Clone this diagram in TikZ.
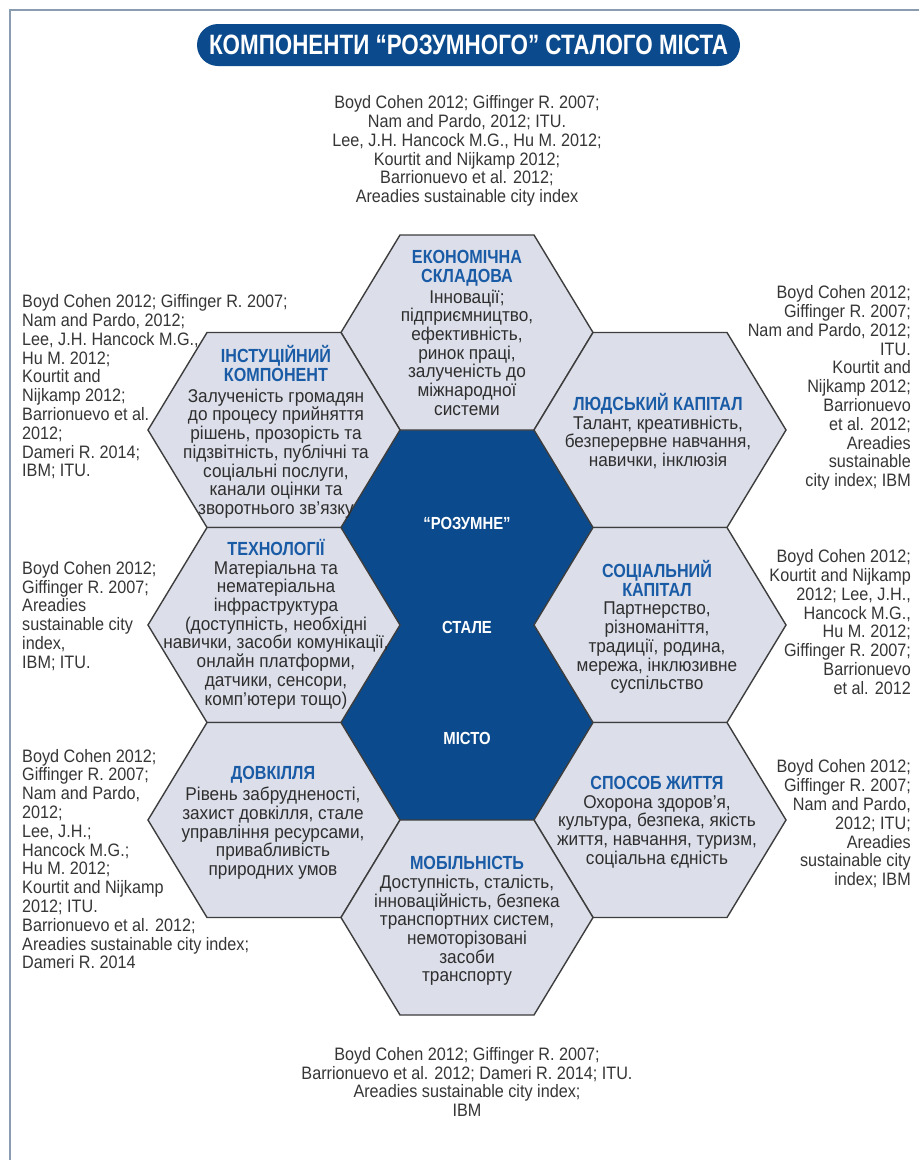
\documentclass[tikz,border=0pt]{standalone}
\usepackage{fontspec}
\setmainfont{Liberation Sans}
\newfontfamily\bodyfont[FakeStretch=0.93]{Liberation Sans}
\newfontfamily\reffont[FakeStretch=0.90]{Liberation Sans}
\newfontfamily\headfont[FakeStretch=0.85]{Liberation Sans}
\newfontfamily\titlefont[FakeStretch=0.80]{Liberation Sans}
\definecolor{framecol}{HTML}{8A9CB0}
\definecolor{darkblue}{HTML}{0B4A8C}
\definecolor{hexfill}{HTML}{DCDFEA}
\definecolor{hexline}{HTML}{3D3D3D}
\definecolor{headblue}{HTML}{1A5BA6}
\definecolor{bodycol}{HTML}{2E2E2E}
\definecolor{refcol}{HTML}{363636}
\newcommand{\hd}[1]{{\color{headblue}\headfont\bfseries\fontsize{19}{18.7}\selectfont #1}}
\tikzset{
  hexa/.pic={\path[pic actions] (-126,0) -- (-67,-97.5) -- (67,-97.5) -- (126,0) -- (67,97.5) -- (-67,97.5) -- cycle;},
  hexstyle/.style={fill=hexfill, draw=hexline, line width=1.4pt, line join=miter},
  hextext/.style={align=center, inner sep=0pt, text=bodycol, font=\bodyfont\fontsize{18.5}{18.7}\selectfont},
  reftext/.style={inner sep=0pt, text=refcol, font=\reffont\fontsize{18}{18.8}\selectfont},
  centertext/.style={inner sep=0pt, text=white, font=\headfont\bfseries\fontsize{17.5}{18}\selectfont},
  pill/.style={fill=darkblue, rounded corners=21pt, minimum width=543pt, minimum height=42pt, inner sep=0pt,
    text=white, font=\titlefont\bfseries\fontsize{28}{30}\selectfont}
}
\begin{document}
\begin{tikzpicture}[x=1pt,y=-1pt]
\useasboundingbox (0,0) rectangle (919,1160);
\fill[white] (0,0) rectangle (919,1160);
% frame
\draw[framecol, line width=1.5pt] (10,1160) -- (10,10) -- (919,10);
% title
\node[pill] (title) at (468.5,45) {КОМПОНЕНТИ “РОЗУМНОГО” СТАЛОГО МІСТА};
% dark center
\fill[darkblue] (400,430) -- (534,430) -- (593,527.5) -- (534,625) -- (593,722.5) -- (534,820)
  -- (400,820) -- (341,722.5) -- (400,625) -- (341,527.5) -- cycle;
% hexagons
\pic[hexstyle] at (467,332.5) {hexa};
\pic[hexstyle] at (274,430) {hexa};
\pic[hexstyle] at (660,430) {hexa};
\pic[hexstyle] at (274,625) {hexa};
\pic[hexstyle] at (660,625) {hexa};
\pic[hexstyle] at (274,820) {hexa};
\pic[hexstyle] at (660,820) {hexa};
\pic[hexstyle] at (467,917.5) {hexa};
% center words
\node[centertext] (c1) at (467,523) {“РОЗУМНЕ”};
\node[centertext] (c2) at (467,627) {СТАЛЕ};
\node[centertext] (c3) at (467,738) {МІСТО};
% hex texts
\node[hextext] (econ) at (467,333) {\hd{ЕКОНОМІЧНА}\\\hd{СКЛАДОВА}\\[2pt]Інновації;\\підприємництво,\\ефективність,\\ринок праці,\\залученість до\\міжнародної\\системи};
\node[hextext] (inst) at (276,432) {\hd{ІНСТУЦІЙНИЙ}\\\hd{КОМПОНЕНТ}\\[2pt]Залученість громадян\\до процесу прийняття\\рішень, прозорість та\\підзвітність, публічні та\\соціальні послуги,\\канали оцінки та\\зворотнього зв’язку};
\node[hextext] (human) at (658,431) {\hd{ЛЮДСЬКИЙ КАПІТАЛ}\\Талант, креативність,\\безперервне навчання,\\навички, інклюзія};
\node[hextext] (tech) at (276,624) {\hd{ТЕХНОЛОГІЇ}\\Матеріальна та\\нематеріальна\\інфраструктура\\(доступність, необхідні\\навички, засоби комунікації,\\онлайн платформи,\\датчики, сенсори,\\комп’ютери тощо)};
\node[hextext] (social) at (657,627) {\hd{СОЦІАЛЬНИЙ}\\\hd{КАПІТАЛ}\\Партнерство,\\різноманіття,\\традиції, родина,\\мережа, інклюзивне\\суспільство};
\node[hextext] (env) at (273,823) {\hd{ДОВКІЛЛЯ}\\[2pt]Рівень забрудненості,\\захист довкілля, стале\\управління ресурсами,\\привабливість\\природних умов};
\node[hextext] (life) at (657,822) {\hd{СПОСОБ ЖИТТЯ}\\Охорона здоров’я,\\культура, безпека, якість\\життя, навчання, туризм,\\соціальна єдність};
\node[hextext] (mob) at (467,921) {\hd{МОБІЛЬНІСТЬ}\\Доступність, сталість,\\інноваційність, безпека\\транспортних систем,\\немоторізовані\\засоби\\транспорту};
% references
\node[reftext, align=center] (rtop) at (467,151) {Boyd Cohen 2012; Giffinger R. 2007;\\Nam and Pardo, 2012; ITU.\\Lee, J.H. Hancock M.G., Hu M. 2012;\\Kourtit and Nijkamp 2012;\\Barrionuevo et al. 2012;\\Areadies sustainable city index};
\node[reftext, align=left, anchor=west] (rinst) at (22,387) {Boyd Cohen 2012; Giffinger R. 2007;\\Nam and Pardo, 2012;\\Lee, J.H. Hancock M.G.,\\Hu M. 2012;\\Kourtit and\\Nijkamp 2012;\\Barrionuevo et al.\\2012;\\Dameri R. 2014;\\IBM; ITU.};
\node[reftext, align=left, anchor=west] (rtech) at (22,616) {Boyd Cohen 2012;\\Giffinger R. 2007;\\Areadies\\sustainable city\\index,\\IBM; ITU.};
\node[reftext, align=left, anchor=west] (renv) at (22,859) {Boyd Cohen 2012;\\Giffinger R. 2007;\\Nam and Pardo,\\2012;\\Lee, J.H.;\\Hancock M.G.;\\Hu M. 2012;\\Kourtit and Nijkamp\\2012; ITU.\\Barrionuevo et al. 2012;\\Areadies sustainable city index;\\Dameri R. 2014};
\node[reftext, align=right, anchor=east] (rhuman) at (911,388) {Boyd Cohen 2012;\\Giffinger R. 2007;\\Nam and Pardo, 2012;\\ITU.\\Kourtit and\\Nijkamp 2012;\\Barrionuevo\\et al. 2012;\\Areadies\\sustainable\\city index; IBM};
\node[reftext, align=right, anchor=east] (rsocial) at (911,622) {Boyd Cohen 2012;\\Kourtit and Nijkamp\\2012; Lee, J.H.,\\Hancock M.G.,\\Hu M. 2012;\\Giffinger R. 2007;\\Barrionuevo\\et al. 2012};
\node[reftext, align=right, anchor=east] (rlife) at (911,824) {Boyd Cohen 2012;\\Giffinger R. 2007;\\Nam and Pardo,\\2012; ITU;\\Areadies\\sustainable city\\index; IBM};
\node[reftext, align=center] (rbottom) at (467,1082) {Boyd Cohen 2012; Giffinger R. 2007;\\Barrionuevo et al. 2012; Dameri R. 2014; ITU.\\Areadies sustainable city index;\\IBM};
\end{tikzpicture}
\end{document}
